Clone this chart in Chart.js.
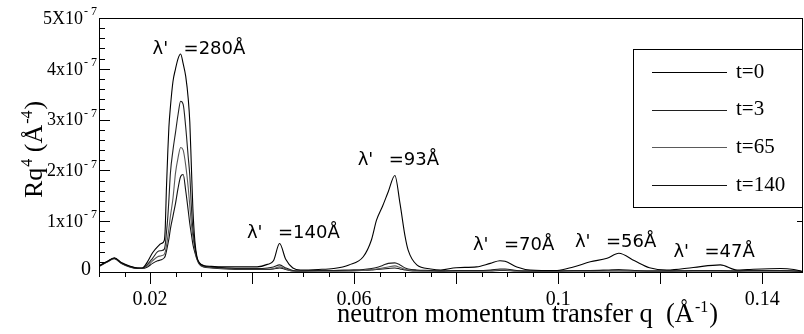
<!DOCTYPE html>
<html>
<head>
<meta charset="utf-8">
<script src="https://cdn.jsdelivr.net/npm/chart.js@4.4.1/dist/chart.umd.min.js"></script>
<style>
  body { margin: 0; background: #fff; }
  #wrap { width: 804px; height: 334px; }
</style>
</head>
<body>
<div id="wrap"><canvas id="chart" width="804" height="334"></canvas></div>
<script>
// q in 1/Angstrom, Rq^4 in units of 1e-7 A^-4
var qValues = [0.0100, 0.0115, 0.0130, 0.0145, 0.0160, 0.0175, 0.0185, 0.0195, 0.0205, 0.0215,
    0.0222, 0.0228, 0.0230, 0.0232, 0.0235, 0.0237, 0.0240, 0.0245, 0.0250, 0.0255,
    0.0260, 0.0265, 0.0270, 0.0275, 0.0278, 0.0281, 0.0284, 0.0288, 0.0292, 0.0297,
    0.0305, 0.0320, 0.0350, 0.0380, 0.0410, 0.0430, 0.0442, 0.0454, 0.0466, 0.0480,
    0.0495, 0.0530, 0.0560, 0.0590, 0.0618, 0.0634, 0.0644, 0.0656, 0.0667, 0.0680,
    0.0690, 0.0700, 0.0706, 0.0723, 0.0750, 0.0770, 0.0800, 0.0840, 0.0867, 0.0886,
    0.0896, 0.0919, 0.0945, 0.0998, 0.1030, 0.1063, 0.1096, 0.1119, 0.1150, 0.1179,
    0.1213, 0.1265, 0.1318, 0.1351, 0.1371, 0.1436, 0.1462, 0.1480];
var t0 = [0.12, 0.20, 0.28, 0.18, 0.12, 0.08, 0.08, 0.20, 0.38, 0.50,
    0.56, 0.62, 0.90, 1.60, 2.40, 2.85, 3.25, 3.75, 4.00, 4.20,
    4.29, 4.10, 3.85, 3.40, 2.95, 2.10, 1.25, 0.60, 0.30, 0.18,
    0.13, 0.11, 0.10, 0.10, 0.10, 0.15, 0.22, 0.56, 0.25, 0.08,
    0.04, 0.05, 0.07, 0.14, 0.30, 0.63, 1.02, 1.30, 1.58, 1.90,
    1.35, 0.70, 0.43, 0.14, 0.06, 0.04, 0.085, 0.10, 0.17, 0.22,
    0.21, 0.10, 0.04, 0.03, 0.10, 0.20, 0.27, 0.37, 0.22, 0.085,
    0.04, 0.09, 0.14, 0.04, 0.05, 0.07, 0.05, 0.01];
var t3 = [0.12, 0.20, 0.27, 0.17, 0.11, 0.08, 0.08, 0.15, 0.27, 0.40,
    0.42, 0.45, 0.55, 0.75, 1.10, 1.42, 1.95, 2.40, 2.75, 3.10,
    3.36, 3.30, 2.85, 2.25, 1.90, 1.30, 0.85, 0.50, 0.28, 0.17,
    0.12, 0.10, 0.08, 0.07, 0.07, 0.08, 0.10, 0.14, 0.08, 0.03,
    0.02, 0.03, 0.03, 0.04, 0.05, 0.07, 0.09, 0.13, 0.17, 0.18,
    0.14, 0.08, 0.06, 0.04, 0.03, 0.02, 0.03, 0.03, 0.04, 0.06,
    0.06, 0.03, 0.02, 0.02, 0.03, 0.03, 0.04, 0.05, 0.03, 0.02,
    0.02, 0.03, 0.03, 0.02, 0.03, 0.03, 0.02, 0.01];
var t65 = [0.11, 0.19, 0.27, 0.17, 0.11, 0.08, 0.07, 0.12, 0.22, 0.30,
    0.32, 0.35, 0.40, 0.50, 0.70, 0.85, 1.10, 1.45, 1.95, 2.25,
    2.45, 2.40, 2.10, 1.65, 1.30, 0.95, 0.70, 0.45, 0.27, 0.16,
    0.11, 0.09, 0.07, 0.06, 0.06, 0.06, 0.07, 0.10, 0.06, 0.02,
    0.02, 0.02, 0.02, 0.03, 0.03, 0.05, 0.06, 0.08, 0.10, 0.12,
    0.09, 0.05, 0.04, 0.03, 0.02, 0.02, 0.02, 0.02, 0.03, 0.04,
    0.04, 0.02, 0.02, 0.02, 0.02, 0.02, 0.03, 0.03, 0.02, 0.02,
    0.02, 0.02, 0.02, 0.02, 0.02, 0.02, 0.02, 0.01];
var t140 = [0.11, 0.19, 0.26, 0.16, 0.10, 0.07, 0.07, 0.10, 0.17, 0.22,
    0.24, 0.28, 0.32, 0.40, 0.55, 0.65, 0.85, 1.10, 1.35, 1.65,
    1.88, 1.92, 1.60, 1.20, 0.95, 0.75, 0.55, 0.38, 0.25, 0.15,
    0.10, 0.08, 0.06, 0.05, 0.05, 0.05, 0.06, 0.08, 0.05, 0.02,
    0.02, 0.02, 0.02, 0.02, 0.03, 0.04, 0.05, 0.06, 0.07, 0.08,
    0.06, 0.04, 0.03, 0.02, 0.02, 0.02, 0.02, 0.02, 0.02, 0.03,
    0.03, 0.02, 0.02, 0.02, 0.02, 0.02, 0.02, 0.02, 0.02, 0.02,
    0.02, 0.02, 0.02, 0.02, 0.02, 0.02, 0.02, 0.01];

var seriesLabels = ['t=0', 't=3', 't=65', 't=140'];
var seriesColors = ['#000000', '#202020', '#5a5a5a', '#111111'];

var xTickValues = [0.02, 0.06, 0.1, 0.14];
var xTickLabels = ['0.02', '0.06', '0.1', '0.14'];
var yTickValues = [0, 1, 2, 3, 4, 5];
var yTickLabels = ['0', '1x10', '2x10', '3x10', '4x10', '5X10'];

// peak annotations: text after the lambda', anchored at (q, Rq^4)
var peakTexts = ['=280Å', '=140Å', '=93Å', '=70Å', '=56Å', '=47Å'];
var peakQ = [0.0205, 0.0390, 0.0607, 0.0833, 0.1033, 0.1226];
var peakY = [4.39, 0.77, 2.20, 0.53, 0.59, 0.39];

var SERIF = '"Liberation Serif", "Times New Roman", serif';
var SANS = '"DejaVu Sans", sans-serif';

function makeSeries(vals) {
    return qValues.map((q, i) => ({ x: q, y: vals[i] }));
}

var allSeries = [t0, t3, t65, t140];
var datasets = [];
for (var i = 0; i < allSeries.length; i++) {
    datasets.push({
        label: seriesLabels[i],
        data: makeSeries(allSeries[i]),
        borderColor: seriesColors[i],
        borderWidth: 1.1,
        pointRadius: 0,
        fill: false,
        cubicInterpolationMode: 'monotone'
    });
}

function drawSup(ctx, base, sup, x, y, bigFont, smallFont, rise) {
    ctx.font = bigFont;
    ctx.fillText(base, x, y);
    var w = ctx.measureText(base).width;
    ctx.font = smallFont;
    ctx.fillText(sup, x + w + 1, y - rise);
    return w + 1 + ctx.measureText(sup).width;
}

const decorations = {
    id: 'decorations',
    afterDraw(chart) {
        const ctx = chart.ctx;
        const a = chart.chartArea;
        const xs = chart.scales.x, ys = chart.scales.y;
        ctx.save();
        ctx.strokeStyle = '#000';
        ctx.fillStyle = '#000';
        ctx.lineWidth = 1;

        // frame
        ctx.strokeRect(a.left + 0.5, a.top + 0.5, a.right - a.left - 1, a.bottom - a.top);

        // y ticks (inside), major every 1e-7, minor every 0.2e-7
        ctx.beginPath();
        ys.ticks.forEach(t => {
            var v = t.value;
            var py = Math.round(ys.getPixelForValue(v)) + 0.5;
            var major = Math.abs(v - Math.round(v)) < 1e-6;
            var len = major ? 11 : 6;
            ctx.moveTo(a.left, py); ctx.lineTo(a.left + len, py);
            if (major) { ctx.moveTo(a.right, py); ctx.lineTo(a.right - 6, py); }
        });
        // x ticks (outside), major every 0.02, minor every 0.005
        xs.ticks.forEach(t => {
            var v = t.value;
            var r = v / 0.005;
            if (Math.abs(r - Math.round(r)) > 1e-6) return;
            var r2 = v / 0.02;
            var major = Math.abs(r2 - Math.round(r2)) < 1e-6;
            var px = Math.round(xs.getPixelForValue(v)) + 0.5;
            ctx.moveTo(px, a.bottom); ctx.lineTo(px, a.bottom + (major ? 12 : 5));
        });
        ctx.stroke();

        // x tick labels
        ctx.font = '20px ' + SERIF;
        ctx.textAlign = 'center';
        ctx.textBaseline = 'alphabetic';
        for (var i = 0; i < xTickValues.length; i++) {
            ctx.fillText(xTickLabels[i], xs.getPixelForValue(xTickValues[i]), 305);
        }

        // y tick labels
        ctx.textBaseline = 'middle';
        for (var i = 0; i < yTickValues.length; i++) {
            var py = ys.getPixelForValue(yTickValues[i]);
            if (yTickValues[i] === 0) {
                ctx.textAlign = 'right';
                ctx.font = '20px ' + SERIF;
                ctx.fillText(yTickLabels[i], 91, py - 2);
                continue;
            }
            ctx.textAlign = 'right';
            ctx.font = '18px ' + SERIF;
            ctx.fillText(yTickLabels[i], 83, py + 1);
            ctx.textAlign = 'left';
            ctx.font = '12px ' + SERIF;
            ctx.fillText('- 7', 84, py - 6);
        }

        // axis titles
        ctx.textAlign = 'left';
        ctx.textBaseline = 'alphabetic';
        var bx = 337, by = 322;
        var w = drawSup(ctx, 'neutron momentum transfer q  (Å', '-1', bx, by, '26.5px ' + SERIF, '16px ' + SERIF, 10);
        ctx.font = '26.5px ' + SERIF;
        ctx.fillText(')', bx + w + 1, by);

        ctx.save();
        ctx.translate(42, 198);
        ctx.rotate(-Math.PI / 2);
        var w1 = drawSup(ctx, 'Rq', '4', 0, 0, '26px ' + SERIF, '16px ' + SERIF, 10);
        ctx.font = '26px ' + SERIF;
        var w2 = drawSup(ctx, ' (Å', '-4', w1, 0, '26px ' + SERIF, '16px ' + SERIF, 10);
        ctx.font = '26px ' + SERIF;
        ctx.fillText(')', w1 + w2 + 1, 0);
        ctx.restore();

        // peak annotations
        ctx.font = '18px ' + SANS;
        ctx.textBaseline = 'middle';
        ctx.textAlign = 'left';
        for (var i = 0; i < peakTexts.length; i++) {
            var px = xs.getPixelForValue(peakQ[i]);
            var py = ys.getPixelForValue(peakY[i]);
            ctx.fillText("λ'", px, py);
            ctx.fillText(peakTexts[i], px + 31, py);
        }

        // legend box
        var lx = 633, ly = 49, lw = 169, lh = 158;
        ctx.fillStyle = '#fff';
        ctx.fillRect(lx, ly, lw, lh);
        ctx.strokeStyle = '#000';
        ctx.strokeRect(lx + 0.5, ly + 0.5, lw, lh);
        ctx.font = '21px ' + SERIF;
        ctx.textBaseline = 'middle';
        ctx.fillStyle = '#000';
        for (var i = 0; i < datasets.length; i++) {
            var yy = 72 + i * 37.7;
            ctx.strokeStyle = datasets[i].borderColor;
            ctx.lineWidth = 1.2;
            ctx.beginPath();
            ctx.moveTo(652, Math.round(yy) + 0.5);
            ctx.lineTo(727, Math.round(yy) + 0.5);
            ctx.stroke();
            ctx.fillText(datasets[i].label, 736, yy);
        }
        ctx.restore();
    }
};

new Chart(document.getElementById('chart'), {
    type: 'line',
    data: { datasets: datasets },
    options: {
        responsive: false,
        animation: false,
        devicePixelRatio: 1,
        layout: { padding: { top: 18, right: 1, left: 0, bottom: 0 } },
        plugins: { legend: { display: false }, tooltip: { enabled: false } },
        scales: {
            x: {
                type: 'linear',
                min: 0.01,
                max: 0.148,
                ticks: { display: false, stepSize: 0.005 },
                grid: { display: false },
                border: { display: false },
                afterFit: function (scale) { scale.height = 62; }
            },
            y: {
                min: 0,
                max: 5,
                ticks: { display: false, stepSize: 0.2 },
                grid: { display: false },
                border: { display: false },
                afterFit: function (scale) { scale.width = 99; }
            }
        }
    },
    plugins: [decorations]
});
</script>
</body>
</html>
